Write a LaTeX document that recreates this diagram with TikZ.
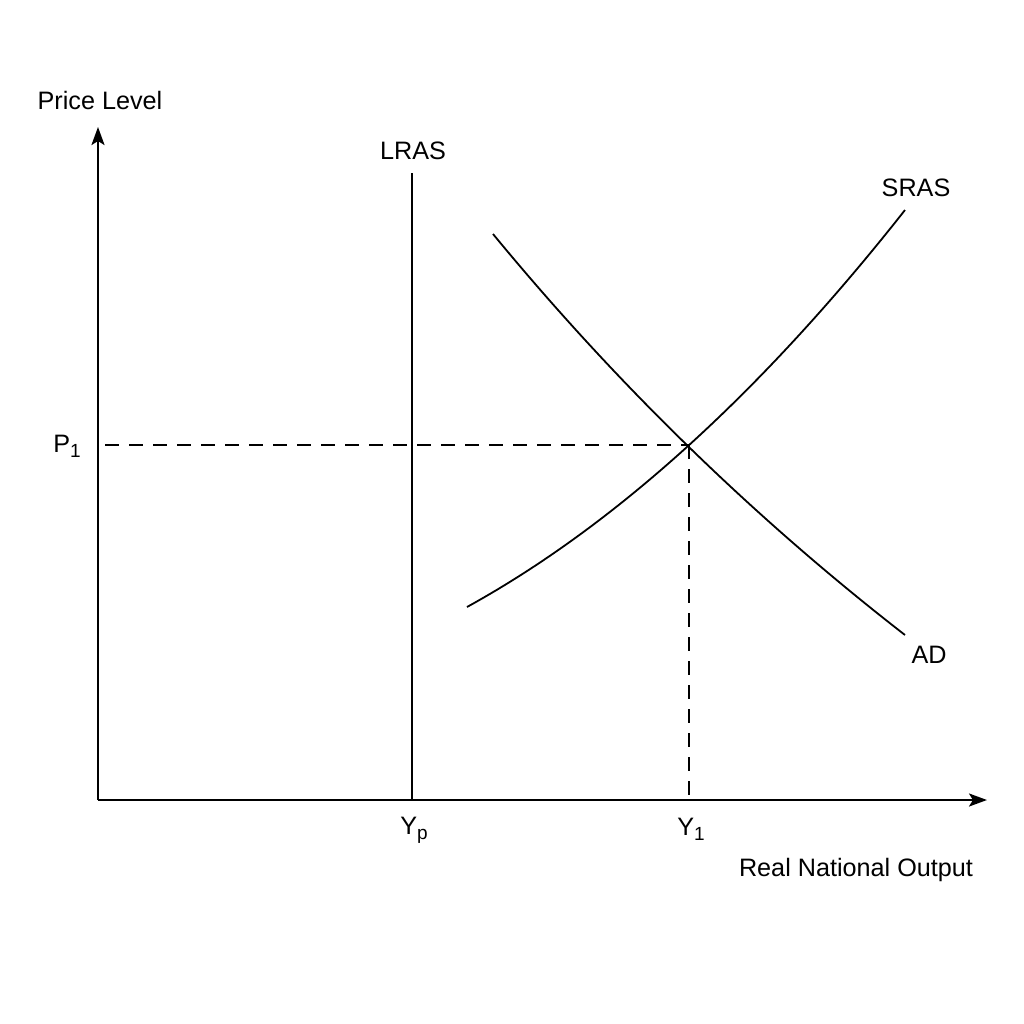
\documentclass[tikz,border=0pt]{standalone}
\usepackage{fontspec}
\setmainfont{Liberation Sans}
\usetikzlibrary{arrows.meta}
\newcommand{\mysub}[1]{\raisebox{-2.6pt}{\fontsize{9.5}{11}\selectfont #1}}
\begin{document}
\begin{tikzpicture}[x=0.5pt,y=-0.5pt,
  axis/.style={line width=1.2pt,-{Stealth[length=9pt,width=6.5pt,inset=2pt]}},
  curve/.style={line width=0.9pt},
  guide/.style={line width=0.9pt,dash pattern=on 7pt off 5pt},
  lbl/.style={font=\fontsize{12.6}{15}\selectfont,inner sep=0pt}]
\useasboundingbox (0,0) rectangle (1024,1024);
\fill[white] (0,0) rectangle (1024,1024);
% coordinates
\coordinate (O) at (98,800);
\coordinate (ytop) at (98,127);
\coordinate (xend) at (987,800);
\coordinate (Ltop) at (412,173);
\coordinate (Lbot) at (412,800);
\coordinate (E) at (689,445);
\coordinate (Pax) at (105,445);
\coordinate (Yax) at (689,800);
\coordinate (S0) at (467,607);
\coordinate (S1) at (905,210);
\coordinate (A0) at (493,234);
\coordinate (A1) at (905,635);
% guides
\draw[guide] (Pax) -- (E);
\draw[guide] (E) -- (Yax);
% axes
\draw[axis] (O) -- (ytop);
\draw[axis] (O) -- (xend);
% curves
\draw[curve] (Ltop) -- (Lbot);
\draw[curve] (S0) .. controls (615.7,525) and (761.7,392) .. (S1);
\draw[curve] (A0) .. controls (615.7,383) and (753,517) .. (A1);
% labels
\node[lbl] (pl) at (100,100) {Price Level};
\node[lbl] (lras) at (413,151) {LRAS};
\node[lbl] (sras) at (916,188) {SRAS};
\node[lbl] (ad) at (929,655) {AD};
\node[lbl] (p1) at (67,446) {P\mysub{1}};
\node[lbl] (yp) at (414,830) {Y\mysub{p}};
\node[lbl] (y1) at (691,829) {Y\mysub{1}};
\node[lbl] (rno) at (856,870) {Real National Output};
\end{tikzpicture}
\end{document}
